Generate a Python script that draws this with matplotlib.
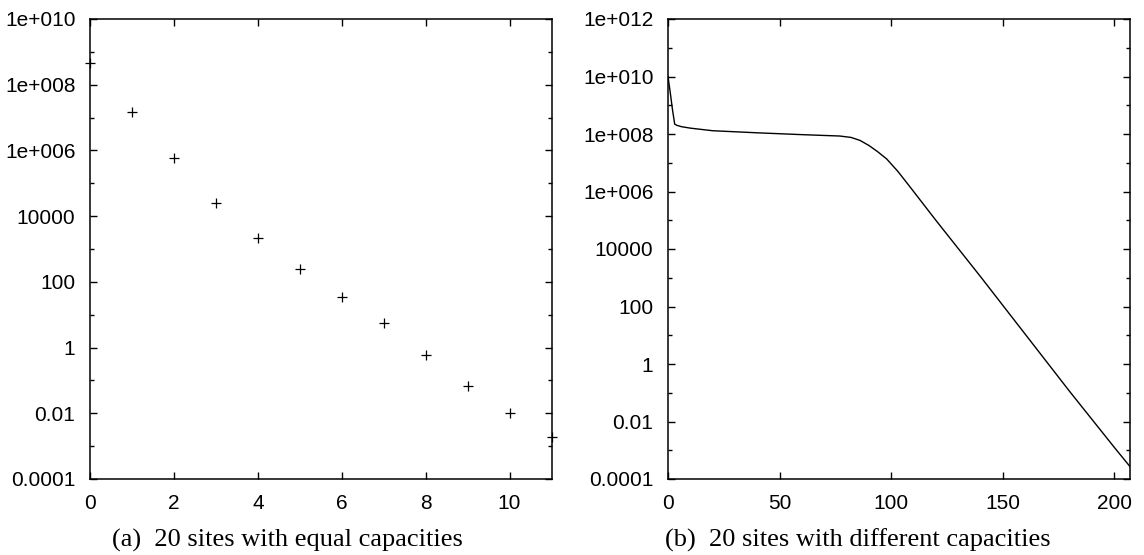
import matplotlib
matplotlib.use("Agg")
import matplotlib.pyplot as plt
from matplotlib.ticker import FixedLocator, FixedFormatter, NullFormatter

# (a) equal capacities: scattered points
eq_x = [0, 1, 2, 3, 4, 5, 6, 7, 8, 9, 10, 11]
eq_y = [4.7e8, 1.5e7, 6.0e5, 2.6e4, 2.2e3, 250, 35, 5.7, 0.58, 0.068, 0.010, 0.0019]

# (b) different capacities: one line
diff_x = [0, 1, 2, 3, 4, 6, 10, 20, 40, 60, 77, 82, 86, 90, 94, 98, 103, 108,
          120, 140, 160, 180, 200, 207]
diff_y = [1e10, 2.8e9, 7.1e8, 2.2e8, 2.0e8, 1.8e8, 1.6e8, 1.3e8, 1.1e8, 9.5e7,
          8.5e7, 7.6e7, 6.0e7, 4.0e7, 2.4e7, 1.35e7, 5.0e6, 1.6e6,
          1.0e5, 1.1e3, 11, 0.11, 1.25e-3, 2.7e-4]

left_ticks = [1e-4, 1e-2, 1, 1e2, 1e4, 1e6, 1e8, 1e10]
left_labels = ["0.0001", "0.01", "1", "100", "10000", "1e+006", "1e+008", "1e+010"]
right_ticks = left_ticks + [1e12]
right_labels = left_labels + ["1e+012"]

captions = ["(a)  20 sites with equal capacities", "(b)  20 sites with different capacities"]

W, H = 1144, 555
fig = plt.figure(figsize=(W / 100, H / 100), dpi=100)
ax1 = fig.add_axes([90 / W, (H - 479) / H, 461.5 / W, 460 / H])
ax2 = fig.add_axes([668 / W, (H - 479) / H, 462 / W, 460 / H])

ax1.plot(eq_x, eq_y, "+", color="black", ms=7, mew=0.9, clip_on=False)
ax2.plot(diff_x, diff_y, "-", color="black", lw=1.0)


def style(ax, ticks, labels, ymax, xticks, xmax):
    ax.set_yscale("log")
    ax.set_ylim(1e-4, ymax)
    ax.set_xlim(0, xmax)
    ax.yaxis.set_major_locator(FixedLocator(ticks))
    ax.yaxis.set_major_formatter(FixedFormatter(labels))
    minors = [t * 10 for t in ticks[:-1]]
    ax.yaxis.set_minor_locator(FixedLocator(minors))
    ax.yaxis.set_minor_formatter(NullFormatter())
    ax.set_xticks(xticks)
    ax.set_xticklabels([str(v) for v in xticks])
    ax.tick_params(which="both", direction="in", top=True, right=True,
                   labelsize=15, width=1.0, colors="black")
    ax.tick_params(which="major", length=5, pad=10.5)
    ax.tick_params(which="minor", length=3)
    for lab in ax.get_xticklabels() + ax.get_yticklabels():
        lab.set_fontfamily("Liberation Sans")
    for s in ax.spines.values():
        s.set_linewidth(1.1)


style(ax1, left_ticks, left_labels, 1e10, [0, 2, 4, 6, 8, 10], 11)
style(ax2, right_ticks, right_labels, 1e12, [0, 50, 100, 150, 200], 207)

fig.text(287 / W, 1 - 540 / H, captions[0], ha="center", va="center",
         fontsize=19, family="Liberation Serif")
fig.text(858 / W, 1 - 540 / H, captions[1], ha="center", va="center",
         fontsize=19, family="Liberation Serif")

fig.savefig("out.png", dpi=100)
